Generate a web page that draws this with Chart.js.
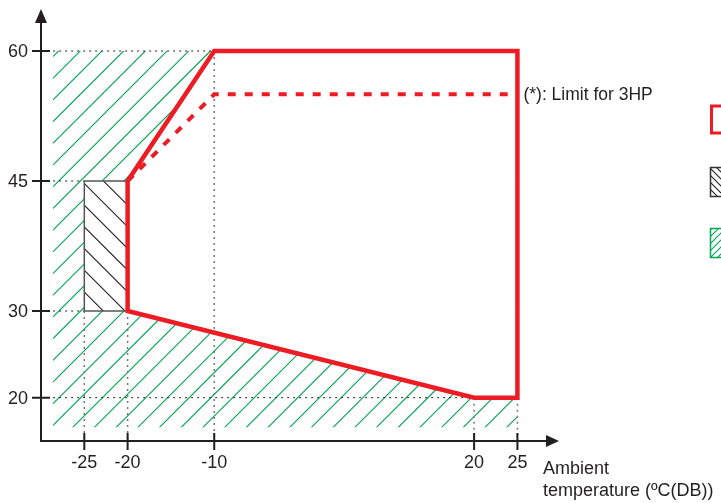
<!DOCTYPE html>
<html>
<head>
<meta charset="utf-8">
<script src="https://cdn.jsdelivr.net/npm/chart.js@4/dist/chart.umd.min.js"></script>
<style>
  body { margin: 0; background: #fff; }
  #wrap { width: 721px; height: 503px; }
</style>
</head>
<body>
<div id="wrap"><canvas id="envChart" width="721" height="503"></canvas></div>
<script>
// tick labels
const xTicks = [-25, -20, -10, 20, 25];
const yTicks = [20, 30, 45, 60];

// operating envelope (red solid line)
const envelopeX = [25, 25, 20, -20, -20, -10, 25];
const envelopeY = [60, 20, 20, 30, 45, 60, 60];

// (*) limit for 3HP (red dashed line)
const limit3hpX = [-20, -10, 25];
const limit3hpY = [45, 55, 55];

// black hatched box
const boxX = [-25, -20, -20, -25, -25];
const boxY = [30, 30, 45, 45, 30];

// green hatched area
const hatchX = [-28.6, -10, -20, -20, 20, 25, 25, -28.6, -28.6];
const hatchY = [60, 60, 45, 30, 20, 20, 16.6, 16.6, 60];

const axisMinX = -30, axisMaxX = 29.8;
const axisMinY = 15, axisMaxY = 64.85;

const ink = '#231f20';
const red = '#ed1c24';
const green = '#00a651';

function toPoints(xs, ys){
	let pts = [];
	for(let i=0;i<xs.length;i++) pts.push({x: xs[i], y: ys[i]});
	return pts;
}

// dotted guide lines, built from the ticks
function hGuides(){
	let pts = [];
	const ends = {60: -10, 45: -25, 30: -25, 20: 20};
	for(let i=0;i<yTicks.length;i++){
		let v = yTicks[i];
		pts.push({x: hatchX[0], y: v});
		pts.push({x: ends[v], y: v});
		pts.push({x: ends[v], y: null});
	}
	return pts;
}
function vGuides(){
	let pts = [];
	const tops = {'-25': 30, '-20': 30, '-10': 60, '20': 20, '25': 20};
	for(let i=0;i<xTicks.length;i++){
		let v = xTicks[i];
		pts.push({x: v, y: tops[v]});
		pts.push({x: v, y: axisMinY});
		pts.push({x: v, y: null});
	}
	return pts;
}

// hatch pattern: tile holds 10 lines so the spacing can be fractional
function makePattern(color, bg, phase, dir, step){
	const T = Math.round(step*10);
	let c = document.createElement('canvas');
	c.width = T; c.height = T;
	let g = c.getContext('2d');
	if(bg){ g.fillStyle = bg; g.fillRect(0,0,T,T); }
	g.strokeStyle = color;
	g.lineWidth = 1.1;
	g.beginPath();
	for(let k=-12;k<=22;k++){
		let d = phase + step*k;
		if(dir == '/'){ g.moveTo(d+4, -4); g.lineTo(-4, d+4); }
		else { g.moveTo(d-4, -4); g.lineTo(d+T+4, T+4); }
	}
	g.stroke();
	return g.createPattern(c, 'repeat');
}

const greenPattern = makePattern(green, null, 1, '/', 21.7);
const blackPattern = makePattern('#231f20', '#ffffff', 9.3, '\\', 21.7);
const greenKey = makePattern(green, '#ffffff', 2, '/', 7);
const blackKey = makePattern('#231f20', '#ffffff', 3, '\\', 7);

const decorPlugin = {
	id: 'decor',
	afterDraw(chart){
		const ctx = chart.ctx;
		const xs = chart.scales.x, ys = chart.scales.y;
		const x0 = xs.getPixelForValue(axisMinX);
		const y0 = ys.getPixelForValue(axisMinY);
		const xEnd = xs.getPixelForValue(axisMaxX);
		const yEnd = ys.getPixelForValue(axisMaxY);
		ctx.save();
		ctx.strokeStyle = ink;
		ctx.fillStyle = ink;
		ctx.lineWidth = 2;
		// axes
		ctx.beginPath();
		ctx.moveTo(x0, yEnd + 12);
		ctx.lineTo(x0, y0);
		ctx.lineTo(xEnd - 12, y0);
		ctx.stroke();
		// arrow heads
		ctx.beginPath();
		ctx.moveTo(x0, yEnd);
		ctx.lineTo(x0 - 6, yEnd + 14);
		ctx.lineTo(x0 + 6, yEnd + 14);
		ctx.closePath();
		ctx.fill();
		ctx.beginPath();
		ctx.moveTo(xEnd, y0);
		ctx.lineTo(xEnd - 13, y0 - 6);
		ctx.lineTo(xEnd - 13, y0 + 6);
		ctx.closePath();
		ctx.fill();
		// ticks + labels
		ctx.font = '18px "Liberation Sans", Arial, sans-serif';
		ctx.beginPath();
		for(let i=0;i<yTicks.length;i++){
			let py = ys.getPixelForValue(yTicks[i]);
			ctx.moveTo(x0 - 9, py); ctx.lineTo(x0 + 9, py);
		}
		for(let i=0;i<xTicks.length;i++){
			let px = xs.getPixelForValue(xTicks[i]);
			ctx.moveTo(px, y0 - 8); ctx.lineTo(px, y0 + 9);
		}
		ctx.stroke();
		ctx.textAlign = 'right';
		ctx.textBaseline = 'middle';
		for(let i=0;i<yTicks.length;i++){
			ctx.fillText(String(yTicks[i]), 28, ys.getPixelForValue(yTicks[i]) + 1);
		}
		ctx.textAlign = 'center';
		ctx.textBaseline = 'alphabetic';
		for(let i=0;i<xTicks.length;i++){
			ctx.fillText(String(xTicks[i]), xs.getPixelForValue(xTicks[i]), 468);
		}
		// axis title
		ctx.textAlign = 'left';
		ctx.fillText('Ambient', 543, 474);
		ctx.fillText('temperature (\u00baC(DB))', 543, 496);
		// note
		ctx.textBaseline = 'middle';
		ctx.font = '17.5px "Liberation Sans", Arial, sans-serif';
		ctx.fillText('(*): Limit for 3HP', xs.getPixelForValue(25) + 6, ys.getPixelForValue(55) + 1);
		// legend boxes (cut at right edge)
		ctx.strokeStyle = red;
		ctx.lineWidth = 3;
		ctx.strokeRect(711.5, 106, 20, 27);
		ctx.fillStyle = blackKey;
		ctx.fillRect(710, 167, 20, 29);
		ctx.strokeStyle = '#333';
		ctx.lineWidth = 1.5;
		ctx.strokeRect(710.5, 167.5, 20, 29);
		ctx.fillStyle = greenKey;
		ctx.fillRect(710, 228, 20, 30);
		ctx.strokeStyle = green;
		ctx.strokeRect(710.5, 228.5, 20, 29);
		ctx.restore();
	}
};

const ctx = document.getElementById('envChart').getContext('2d');
new Chart(ctx, {
	type: 'scatter',
	data: {
		datasets: [
			{
				label: 'Envelope',
				data: toPoints(envelopeX, envelopeY),
				showLine: true,
				borderColor: red,
				borderWidth: 4.5,
				borderCapStyle: 'square',
				borderJoinStyle: 'miter',
				pointRadius: 0,
				order: 1
			},
			{
				label: 'Limit for 3HP',
				data: toPoints(limit3hpX, limit3hpY),
				showLine: true,
				borderColor: red,
				borderWidth: 4,
				borderDash: [8, 9],
				pointRadius: 0,
				order: 2
			},
			{
				label: 'Box',
				data: toPoints(boxX, boxY),
				showLine: true,
				borderColor: '#555',
				borderWidth: 1.5,
				backgroundColor: blackPattern,
				fill: 'shape',
				pointRadius: 0,
				order: 3
			},
			{
				label: 'hguides',
				data: hGuides(),
				showLine: true,
				spanGaps: false,
				borderColor: '#222',
				borderWidth: 1,
				borderDash: [2, 4],
				pointRadius: 0,
				order: 4
			},
			{
				label: 'vguides',
				data: vGuides(),
				showLine: true,
				spanGaps: false,
				borderColor: '#777',
				borderWidth: 1.5,
				borderDash: [2, 4],
				pointRadius: 0,
				order: 4
			},
			{
				label: 'Hatch',
				data: toPoints(hatchX, hatchY),
				showLine: true,
				borderWidth: 0,
				borderColor: 'rgba(0,0,0,0)',
				backgroundColor: greenPattern,
				fill: 'shape',
				pointRadius: 0,
				order: 5
			}
		]
	},
	options: {
		responsive: false,
		animation: false,
		events: [],
		layout: { padding: { left: 41, right: 162, top: 9, bottom: 62 } },
		scales: {
			x: { type: 'linear', min: axisMinX, max: axisMaxX, display: false },
			y: { type: 'linear', min: axisMinY, max: axisMaxY, display: false }
		},
		plugins: {
			legend: { display: false },
			tooltip: { enabled: false }
		}
	},
	plugins: [decorPlugin]
});
</script>
</body>
</html>
